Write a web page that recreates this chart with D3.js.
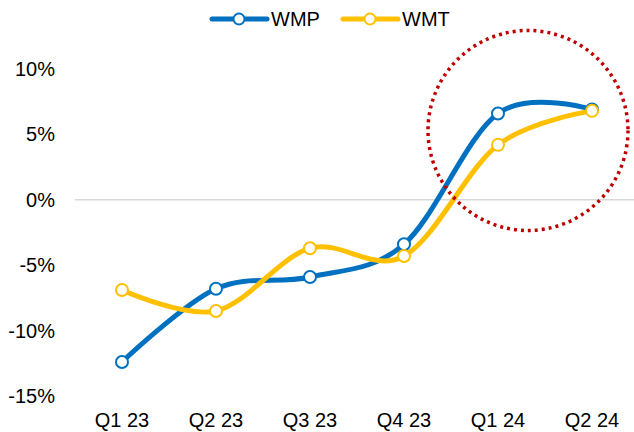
<!DOCTYPE html>
<html>
<head>
<meta charset="utf-8">
<script src="https://cdn.jsdelivr.net/npm/d3@7"></script>
<style>
  body { margin: 0; background: #fff; }
  text { font-family: "Liberation Sans", Arial, sans-serif; fill: #000; }
</style>
</head>
<body>
<svg id="chart" width="634" height="432"></svg>
<script>
// data
const quarters = ["Q1 23", "Q2 23", "Q3 23", "Q4 23", "Q1 24", "Q2 24"];
const wmp = [-12.4, -6.8, -5.9, -3.4, 6.6, 6.9];
const wmt = [-6.9, -8.5, -3.7, -4.3, 4.2, 6.8];
const yTicks = [-15, -10, -5, 0, 5, 10];

const seriesList = [
    {name: "WMP", values: wmp, color: "#0070C0"},
    {name: "WMT", values: wmt, color: "#FFC000"}
];

const svg = d3.select("#chart");
const margin = {left: 75, right: -5, top: 69, bottom: 36};
const width = 634 - margin.left - margin.right;

const x = d3.scalePoint()
    .domain(quarters)
    .range([margin.left, margin.left + width])
    .padding(0.5);

const y = d3.scaleLinear()
    .domain([-15, 10])
    .range([396, 69]);

// zero line
svg.append("line")
    .attr("x1", margin.left).attr("x2", 634)
    .attr("y1", y(0)).attr("y2", y(0))
    .attr("stroke", "#D9D9D9").attr("stroke-width", 1.5);

// y labels
svg.append("g").selectAll("text")
    .data(yTicks)
    .enter().append("text")
    .attr("x", 55)
    .attr("y", d => y(d))
    .attr("dy", "0.35em")
    .attr("text-anchor", "end")
    .style("font-size", "20px")
    .text(d => d + "%");

// x labels
svg.append("g").selectAll("text")
    .data(quarters)
    .enter().append("text")
    .attr("x", d => x(d))
    .attr("y", 427)
    .attr("text-anchor", "middle")
    .style("font-size", "20px")
    .text(d => d);

const line = d3.line()
    .x((d, i) => x(quarters[i]))
    .y(d => y(d))
    .curve(d3.curveCardinal.tension(0));

seriesList.forEach(s => {
    svg.append("path")
        .attr("d", line(s.values))
        .attr("fill", "none")
        .attr("stroke", s.color)
        .attr("stroke-width", 5)
        .attr("stroke-linecap", "round");
});

seriesList.forEach(s => {
    svg.append("g").selectAll("circle")
        .data(s.values)
        .enter().append("circle")
        .attr("cx", (d, i) => x(quarters[i]))
        .attr("cy", d => y(d))
        .attr("r", 6)
        .attr("fill", "#fff")
        .attr("stroke", s.color)
        .attr("stroke-width", 2);
});

// dotted highlight circle round the last two quarters
const cx = (x("Q1 24") + x("Q2 24")) / 2 - 17;
svg.append("circle")
    .attr("cx", cx)
    .attr("cy", y(5.3))
    .attr("r", 100)
    .attr("fill", "none")
    .attr("stroke", "#C00000")
    .attr("stroke-width", 3.5)
    .attr("stroke-dasharray", "3 4");

// legend
const legendX = [212, 343];
seriesList.forEach((s, i) => {
    const lg = svg.append("g").attr("transform", `translate(${legendX[i]},19)`);
    lg.append("line")
        .attr("x1", 0).attr("x2", 55)
        .attr("stroke", s.color).attr("stroke-width", 5)
        .attr("stroke-linecap", "round");
    lg.append("circle")
        .attr("cx", 27).attr("r", 5.5)
        .attr("fill", "#fff").attr("stroke", s.color).attr("stroke-width", 2);
    lg.append("text")
        .attr("x", 59).attr("dy", "0.35em")
        .style("font-size", "20px")
        .text(s.name);
});
</script>
</body>
</html>
